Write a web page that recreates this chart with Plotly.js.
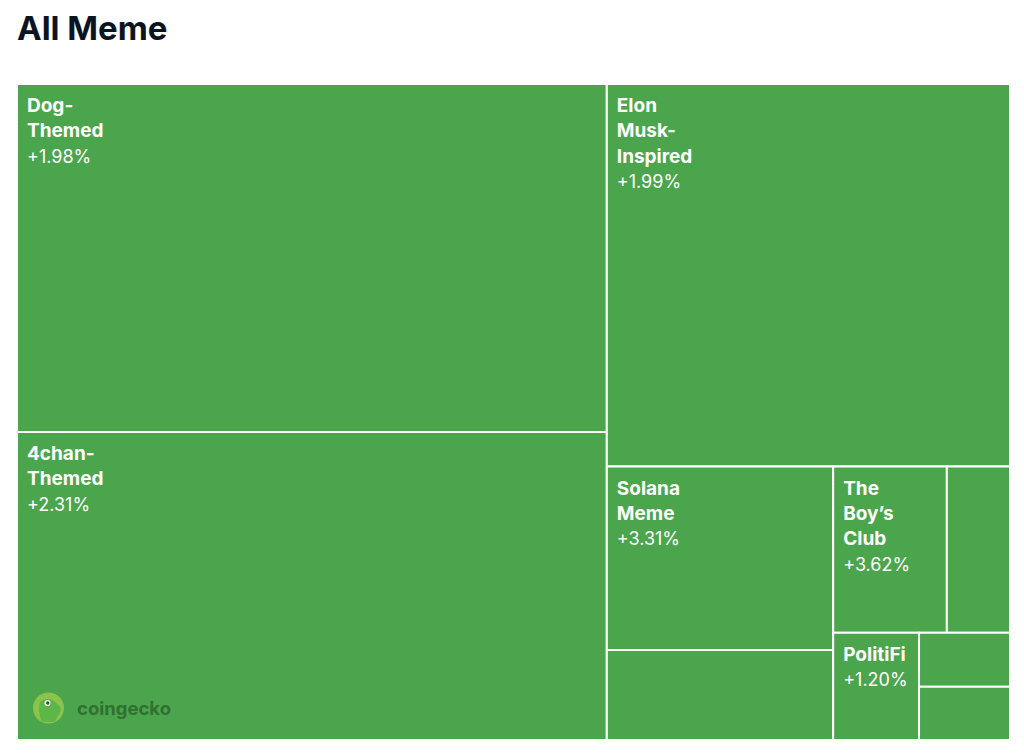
<!DOCTYPE html>
<html>
<head>
<meta charset="utf-8">
<script src="https://cdn.plot.ly/plotly-3.0.1.min.js"></script>
<style>
  html, body { margin: 0; padding: 0; background: #ffffff; }
  #chart { width: 1024px; height: 755px; }
</style>
</head>
<body>
<div id="chart"></div>
<script>
// Categories (top-level meme sub-categories) and their relative market-cap weights
const categories = ["Dog-Themed", "4chan-Themed", "Elon Musk-Inspired", "Solana Meme", "Cat-Themed", "The Boy's Club", "Frog-Themed", "PolitiFi", "Base Meme", "AI Meme"];
const displayNames = ["Dog-<br>Themed", "4chan-<br>Themed", "Elon<br>Musk-<br>Inspired", "Solana<br>Meme", "", "The<br>Boy\u2019s<br>Club", "", "PolitiFi", "", ""];
const weights = [205.3, 181.7, 154.3, 41.5, 20.4, 18.9, 10.5, 9.2, 4.9, 4.85];
const changes = ["+1.98%", "+2.31%", "+1.99%", "+3.31%", "", "+3.62%", "", "+1.20%", "", ""];

const texts = displayNames.map((n, i) =>
  n ? '<span style="font-size:19px"><b>' + n + '</b></span><br><span style="font-size:18px">' + changes[i] + '</span>' : '');

const trace = {
  type: 'treemap',
  labels: categories,
  parents: categories.map(() => ''),
  values: weights,
  text: texts,
  texttemplate: '%{text}',
  textposition: 'top left',
  textfont: { family: 'Inter, "Noto Sans", sans-serif', size: 19.5, color: '#ffffff' },
  marker: {
    colors: categories.map(() => '#4ba54d'),
    line: { color: '#ffffff', width: 2 },
    pad: { t: 0, l: 0, r: 0, b: 0 }
  },
  tiling: { packing: 'binary', pad: 0 },
  pathbar: { visible: false },
  sort: true,
  hoverinfo: 'label+value'
};

const layout = {
  width: 1024,
  height: 755,
  margin: { l: 17, r: 14, t: 84, b: 15 },
  paper_bgcolor: '#ffffff',
  title: {
    text: '<b>All Meme</b>',
    x: 0, xref: 'paper', xanchor: 'left',
    y: 0.962, yref: 'container', yanchor: 'middle',
    font: { family: 'Inter, "Noto Sans", sans-serif', size: 33, color: '#0d1421' }
  },
  uniformtext: { mode: false },
  shapes: [
    { type: 'circle', xref: 'paper', yref: 'paper', xsizemode: 'pixel', ysizemode: 'pixel',
      xanchor: 0.0317, yanchor: 0.0488, x0: -15.5, x1: 15.5, y0: -15.5, y1: 15.5,
      fillcolor: '#8cc44b', line: { width: 0 }, layer: 'above' },
    { type: 'path', xref: 'paper', yref: 'paper', xsizemode: 'pixel', ysizemode: 'pixel',
      xanchor: 0.0317, yanchor: 0.0488,
      path: 'M -9 4 C -8 8 -4 9 -1 9 C 4 9 7 6 10 3 C 13 0 13 -4 10 -7 C 8 -9 8 -12 6 -14 L -7 -13.5 C -9 -8 -10 -2 -9 4 Z',
      fillcolor: '#5db648', line: { width: 0 }, layer: 'above' },
    { type: 'circle', xref: 'paper', yref: 'paper', xsizemode: 'pixel', ysizemode: 'pixel',
      xanchor: 0.0317, yanchor: 0.0488, x0: -4, x1: 2, y0: 2, y1: 8,
      fillcolor: '#ffffff', line: { width: 0 }, layer: 'above' },
    { type: 'circle', xref: 'paper', yref: 'paper', xsizemode: 'pixel', ysizemode: 'pixel',
      xanchor: 0.0317, yanchor: 0.0488, x0: -2.5, x1: 1, y0: 3.3, y1: 6.8,
      fillcolor: '#2f5a2a', line: { width: 0 }, layer: 'above' }
  ],
  annotations: [
    { xref: 'paper', yref: 'paper', x: 0.058, y: 0.0488, xanchor: 'left', yanchor: 'middle',
      text: '<b>coingecko</b>', showarrow: false,
      font: { family: 'Inter, "Noto Sans", sans-serif', size: 18.5, color: '#316f33' } }
  ]
};

Plotly.newPlot('chart', [trace], layout, { displayModeBar: false, staticPlot: true }).then(function (gd) {
  // nudge the cell labels to the reference's inner padding
  gd.querySelectorAll('text.slicetext').forEach(function (el) {
    if (el.getAttribute('data-nudged')) return;
    el.setAttribute('data-nudged', '1');
    const t = el.getAttribute('transform') || '';
    el.setAttribute('transform', 'translate(7,7) ' + t);
  });
});
</script>
</body>
</html>
